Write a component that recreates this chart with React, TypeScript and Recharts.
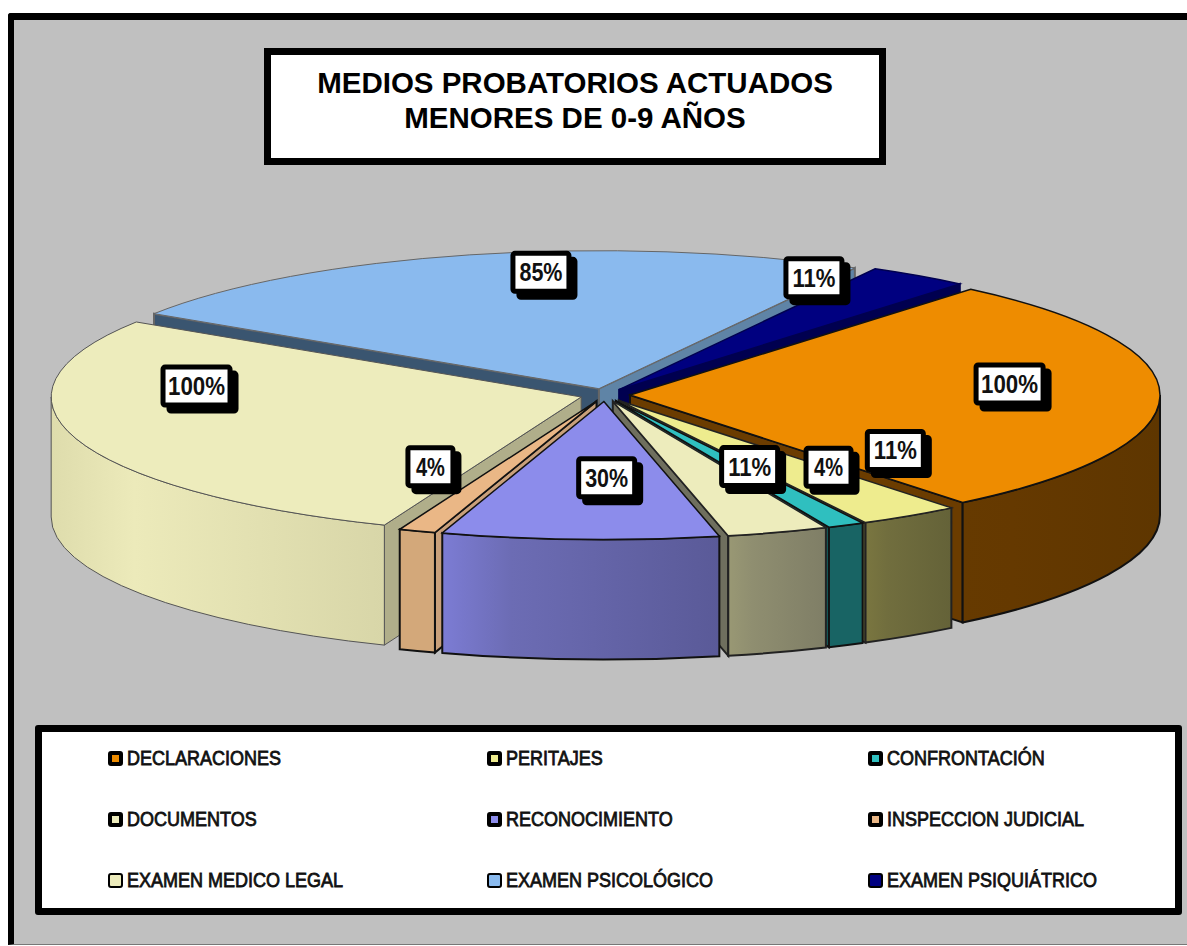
// App.tsx
import React from "react";
import { PieChart, Pie, Legend } from "recharts";

const categories = [
  "DECLARACIONES",
  "PERITAJES",
  "CONFRONTACIÓN",
  "DOCUMENTOS",
  "RECONOCIMIENTO",
  "INSPECCION JUDICIAL",
  "EXAMEN MEDICO LEGAL",
  "EXAMEN PSICOLÓGICO",
  "EXAMEN PSIQUIÁTRICO",
];
const values = [100, 11, 4, 11, 30, 4, 100, 85, 11];

const topColors = ["#ee8c00", "#eeec8e", "#2fbfbf", "#edecbc", "#8c8ceb", "#eab786", "#edecbc", "#8abaee", "#000080"];
const wallLeft = ["#663a00", "#7a7640", "#186464", "#999874", "#7c7cd4", "#d3a87a", "#dedcac", "#3a5570", "#000050"];
const wallMid = ["#653900", "#716e3e", "#186464", "#8f8e70", "#6c6cb4", "#d3a87a", "#eceaba", "#3a5570", "#000050"];
const wallRight = ["#5e3600", "#646238", "#186464", "#7f7e66", "#5a5a98", "#d3a87a", "#d8d6a8", "#3a5570", "#000050"];
const startFaceColors = ["#6b3c00", "#777540", "#176060", "#77776a", "#5a5a98", "#c9a07a", "#b0ae8a", "#3a5570", "#000050"];
const endFaceColors = ["#6b3c00", "#777540", "#176060", "#6f6f5e", "#5a5a98", "#c9a07a", "#b0ae8a", "#5f84a6", "#000050"];
const edgeColors = ["#111", "#222", "#111", "#222", "#111", "#111", "#555", "#666", "#000050"];

// shift of each value label from its radial anchor
const labelShifts = [
  [-2, -12],
  [67, -33],
  [47, -23],
  [18, -29],
  [20, -23],
  [-37, -28],
  [-21, -41],
  [35, -20],
  [-21, -30],
];

// walls are painted back to front, one Pie per slice
const wallOrder = [7, 8, 0, 1, 2, 3, 6, 5, 4];

const chartData = categories.map((name, i) => ({ name, value: values[i] }));

const CX = 605;
const CY = 395;
const RX = 530;
const TILT = 138 / 530;
const DEPTH = 120;
const EXPLODE = 25;
const RAD = Math.PI / 180;

const offset = (mid: number) => ({
  x: EXPLODE * Math.cos(mid * RAD),
  y: -EXPLODE * TILT * Math.sin(mid * RAD),
});

const rimPoint = (cx: number, cy: number, r: number, a: number, mid: number) => {
  const o = offset(mid);
  return {
    x: cx + o.x + r * Math.cos(a * RAD),
    y: cy + o.y - r * TILT * Math.sin(a * RAD),
  };
};

const TopSlice = (props: any) => {
  const { cx, cy, outerRadius: r, startAngle, endAngle, midAngle, name } = props;
  const i = categories.indexOf(name);
  const apex = rimPoint(cx, cy, 0, 0, midAngle);
  const a = rimPoint(cx, cy, r, startAngle, midAngle);
  const b = rimPoint(cx, cy, r, endAngle, midAngle);
  return (
    <path
      d={`M${apex.x},${apex.y} L${a.x},${a.y} A${r},${r * TILT} 0 0 1 ${b.x},${b.y} Z`}
      fill={topColors[i]}
      stroke={edgeColors[i]}
      strokeWidth={i === 6 || i === 7 ? 1 : 1.5}
    />
  );
};

const face = (cx: number, cy: number, r: number, angle: number, mid: number) => {
  const apex = rimPoint(cx, cy, 0, 0, mid);
  const p = rimPoint(cx, cy, r, angle, mid);
  return `M${apex.x},${apex.y} L${p.x},${p.y} L${p.x},${p.y + DEPTH} L${apex.x},${apex.y + DEPTH} Z`;
};

const wallSlice = (only: number) => (props: any) => {
  const { cx, cy, outerRadius: r, startAngle, endAngle, midAngle, name } = props;
  const i = categories.indexOf(name);
  if (i !== only) return <g />;
  const stroke = edgeColors[i];
  const sw = i === 6 ? 1 : 2;
  const from = Math.min(startAngle, 0);
  const to = Math.max(endAngle, -180);
  const hasRim = from > to;
  const a = rimPoint(cx, cy, r, from, midAngle);
  const b = rimPoint(cx, cy, r, to, midAngle);
  const ry = r * TILT;
  const id = `wall-${i}`;
  return (
    <g>
      <defs>
        <linearGradient id={id} x1="0" y1="0" x2="1" y2="0">
          <stop offset="0%" stopColor={wallLeft[i]} />
          <stop offset="25%" stopColor={wallMid[i]} />
          <stop offset="100%" stopColor={wallRight[i]} />
        </linearGradient>
      </defs>
      {Math.cos(startAngle * RAD) < 0 && (
        <path d={face(cx, cy, r, startAngle, midAngle)} fill={startFaceColors[i]} stroke={stroke} strokeWidth={sw} />
      )}
      {Math.cos(endAngle * RAD) > 0 && (
        <path d={face(cx, cy, r, endAngle, midAngle)} fill={endFaceColors[i]} stroke={stroke} strokeWidth={sw} />
      )}
      {hasRim && (
        <path
          d={`M${a.x},${a.y} A${r},${ry} 0 0 1 ${b.x},${b.y} L${b.x},${b.y + DEPTH} A${r},${ry} 0 0 0 ${a.x},${a.y + DEPTH} Z`}
          fill={`url(#${id})`}
          stroke={stroke}
          strokeWidth={sw}
        />
      )}
    </g>
  );
};

const ValueLabel = (props: any) => {
  const { cx, cy, outerRadius: r, midAngle, value, index } = props;
  const p = rimPoint(cx, cy, r * 0.72, midAngle, midAngle);
  const x = p.x + labelShifts[index][0];
  const y = p.y + labelShifts[index][1];
  const text = `${value}%`;
  const w = text.length * 11 + 23;
  const h = 38;
  return (
    <g>
      <rect x={x - w / 2 + 6} y={y - h / 2 + 6} width={w} height={h} rx={2} fill="#000" stroke="#000" strokeWidth={5} />
      <rect x={x - w / 2} y={y - h / 2} width={w} height={h} rx={2} fill="#fff" stroke="#000" strokeWidth={5} />
      <text
        x={x}
        y={y + 9}
        textAnchor="middle"
        fontFamily="'Liberation Sans', sans-serif"
        fontWeight={700}
        fontSize={26}
        textLength={text.length * 14 + 1}
        lengthAdjust="spacingAndGlyphs"
        fill="#111"
      >
        {text}
      </text>
    </g>
  );
};

const ChartLegend = () => (
  <div
    style={{
      boxSizing: "border-box",
      width: 1147,
      height: 190,
      background: "#fff",
      border: "7px solid #000",
      borderRadius: 3,
      position: "relative",
    }}
  >
    {categories.map((name, i) => (
      <div
        key={name}
        style={{
          position: "absolute",
          left: [66, 445, 826][i % 3],
          top: [14, 75, 136][Math.floor(i / 3)],
          display: "flex",
          alignItems: "center",
          height: 24,
          whiteSpace: "nowrap",
          fontFamily: "'Liberation Sans', sans-serif",
          fontSize: 20,
          color: "#111",
          WebkitTextStroke: "0.8px #111",
        }}
      >
        <span
          style={{
            boxSizing: "border-box",
            display: "inline-block",
            width: 15,
            height: 15,
            marginRight: 4,
            borderRadius: 3,
            background: topColors[i],
            border: `${i >= 6 ? 2 : 4}px solid #000`,
          }}
        />
        <span style={{ display: "inline-block", transform: "scaleX(0.9)", transformOrigin: "left center" }}>{name}</span>
      </div>
    ))}
  </div>
);

export default function App() {
  return (
    <div style={{ position: "absolute", left: 0, top: 0, width: 1187, height: 946, background: "#fff", overflow: "hidden" }}>
      <div
        style={{
          position: "absolute",
          left: 8,
          top: 13,
          width: 1200,
          height: 932,
          boxSizing: "border-box",
          background: "#c0c0c0",
          borderLeft: "6px solid #000",
          borderTop: "7px solid #000",
          borderBottom: "1px solid #777",
          borderTopLeftRadius: 3,
        }}
      />
      <div
        style={{
          position: "absolute",
          left: 264,
          top: 48,
          width: 622,
          height: 117,
          boxSizing: "border-box",
          background: "#fff",
          border: "7px solid #000",
          textAlign: "center",
          fontFamily: "'Liberation Sans', Arial, sans-serif",
          fontWeight: 700,
          fontSize: 29.5,
          lineHeight: "35px",
          paddingTop: 10,
          color: "#000",
        }}
      >
        MEDIOS PROBATORIOS ACTUADOS
        <br />
        MENORES DE 0-9 AÑOS
      </div>
      <div style={{ position: "absolute", left: 0, top: 0 }}>
        <PieChart width={1187} height={946} margin={{ top: 0, right: 0, bottom: 0, left: 0 }}>
          {wallOrder.map((slice) => (
            <Pie
              key={slice}
              data={chartData}
              dataKey="value"
              nameKey="name"
              cx={CX}
              cy={CY}
              outerRadius={RX}
              startAngle={50}
              endAngle={-310}
              stroke="none"
              legendType="none"
              label={false}
              labelLine={false}
              shape={wallSlice(slice)}
              isAnimationActive={false}
            />
          ))}
          <Pie
            data={chartData}
            dataKey="value"
            nameKey="name"
            cx={CX}
            cy={CY}
            outerRadius={RX}
            startAngle={50}
            endAngle={-310}
            label={ValueLabel}
            labelLine={false}
            shape={TopSlice}
            isAnimationActive={false}
          />
          <Legend
            content={ChartLegend}
            wrapperStyle={{ left: 35, top: 725, width: 1147, height: 190, bottom: "auto" }}
          />
        </PieChart>
      </div>
    </div>
  );
}
